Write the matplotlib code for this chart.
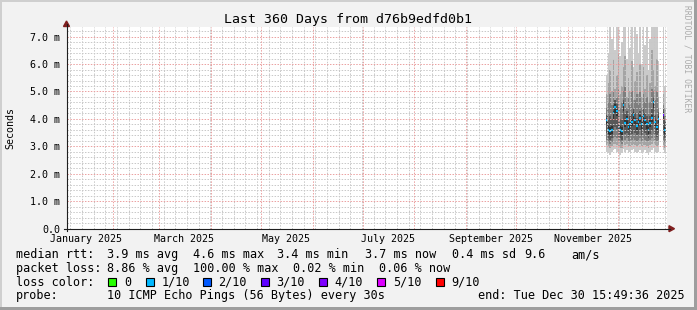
import numpy as np
import pandas as pd
import matplotlib
matplotlib.use('Agg')
import matplotlib.pyplot as plt
import matplotlib.dates as mdates
from matplotlib.patches import Polygon, Rectangle
from matplotlib.lines import Line2D

W, H = 697, 310
plt.rcParams['font.family'] = ['DejaVu Sans Mono', 'DejaVu Sans']

# daily consolidated smoke data (values in ms), 10 sorted pings per day
days = list(pd.date_range('2025-11-24', '2025-12-25', freq='D')) + \
    [pd.Timestamp('2025-12-28'), pd.Timestamp('2025-12-29')]
ping1 = [2.8, 2.75, 2.7, 2.8, 2.85, 2.9, 2.8, 2.75, 2.7, 2.75, 2.9, 2.8, 2.85, 2.75, 2.8, 2.85, 2.9,
         2.8, 2.75, 2.8, 2.85, 2.75, 2.8, 2.85, 2.75, 2.7, 2.8, 2.85, 2.95, 2.8, 2.75, 2.8, 2.85, 2.75]
ping2 = [3.05, 3.0, 2.95, 3.0, 3.1, 3.1, 3.05, 3.0, 2.95, 2.95, 3.15, 3.05, 3.1, 3.0, 3.0, 3.05, 3.1,
         3.05, 3.0, 3.05, 3.1, 3.0, 3.05, 3.05, 3.0, 2.95, 3.05, 3.1, 3.2, 3.05, 3.0, 3.05, 3.05, 2.95]
ping3 = [3.25, 3.15, 3.1, 3.15, 3.3, 3.35, 3.3, 3.2, 3.15, 3.1, 3.4, 3.25, 3.3, 3.2, 3.2, 3.25, 3.3,
         3.25, 3.2, 3.25, 3.3, 3.2, 3.3, 3.25, 3.2, 3.15, 3.25, 3.3, 3.45, 3.25, 3.2, 3.25, 3.25, 3.15]
ping4 = [3.5, 3.3, 3.25, 3.3, 3.6, 3.7, 3.65, 3.35, 3.3, 3.25, 3.8, 3.45, 3.5, 3.35, 3.4, 3.45, 3.6,
         3.5, 3.4, 3.45, 3.55, 3.4, 3.55, 3.5, 3.4, 3.3, 3.45, 3.55, 3.8, 3.45, 3.35, 3.5, 3.5, 3.3]
ping5 = [3.8, 3.45, 3.4, 3.45, 3.95, 4.2, 4.1, 3.55, 3.45, 3.4, 4.3, 3.7, 3.8, 3.55, 3.65, 3.75, 3.95,
         3.8, 3.6, 3.75, 3.9, 3.65, 3.9, 3.8, 3.65, 3.45, 3.7, 3.9, 4.35, 3.75, 3.55, 3.85, 3.95, 3.45]
ping6 = [4.05, 3.75, 3.7, 3.75, 4.3, 4.55, 4.4, 3.85, 3.75, 3.7, 4.6, 3.95, 4.1, 3.8, 3.9, 4.0, 4.25,
         4.05, 3.85, 4.0, 4.15, 3.9, 4.2, 4.05, 3.9, 3.7, 3.95, 4.15, 4.7, 4.0, 3.8, 4.1, 4.25, 3.7]
ping7 = [4.15, 4.0, 4.1, 4.0, 4.5, 4.7, 4.55, 4.2, 4.0, 3.95, 4.7, 4.2, 4.3, 4.0, 4.1, 4.2, 4.4,
         4.2, 4.05, 4.2, 4.3, 4.1, 4.35, 4.2, 4.1, 3.9, 4.1, 4.35, 4.8, 4.15, 4.0, 4.25, 4.4, 3.95]
ping8 = [4.4, 4.6, 4.9, 4.5, 5.0, 4.7, 4.8, 5.1, 4.4, 4.6, 5.0, 5.2, 4.4, 4.8, 4.5, 5.0, 4.3,
         4.7, 4.9, 4.5, 5.0, 4.4, 4.9, 4.6, 4.8, 4.2, 4.6, 5.1, 5.0, 4.7, 5.0, 4.4, 4.5, 4.1]
ping9 = [4.9, 5.3, 5.8, 5.0, 6.2, 5.1, 5.6, 6.4, 4.9, 5.2, 5.9, 6.3, 4.8, 5.5, 5.0, 6.1, 4.7,
         5.4, 5.7, 4.9, 6.0, 4.8, 5.9, 5.1, 5.6, 4.6, 5.3, 6.5, 5.8, 5.2, 6.2, 4.8, 4.9, 4.4]
ping10 = [5.6, 6.4, 7.4, 6.9, 7.4, 6.5, 7.4, 7.4, 6.3, 6.8, 7.4, 7.4, 6.2, 7.4, 6.6, 7.4, 5.9,
          7.4, 7.1, 6.4, 7.4, 6.0, 7.4, 6.7, 7.4, 5.8, 6.9, 7.4, 7.4, 7.4, 7.4, 6.1, 7.4, 5.2]
median = [3.95, 3.6, 3.55, 3.6, 4.2, 4.45, 4.3, 3.7, 3.6, 3.55, 4.5, 3.85, 4.0, 3.7, 3.8, 3.9, 4.15,
          3.95, 3.75, 3.9, 4.05, 3.8, 4.1, 3.95, 3.8, 3.6, 3.85, 4.05, 4.6, 3.9, 3.7, 4.0, 4.15, 3.6]
loss = [1] * 32 + [3, 1]

loss_labels = ['0', '1/10', '2/10', '3/10', '4/10', '5/10', '9/10']
loss_keys = [0, 1, 2, 3, 4, 5, 9]
loss_colors = ['#26ff00', '#00b8ff', '#0059ff', '#5e00ff', '#7e00ff', '#dd00ff', '#ff0000']

start = pd.Timestamp('2025-01-04 15:49:36')
end = pd.Timestamp('2025-12-30 15:49:36')


def fx(x):
    return x / W


def fy(y):
    return 1 - y / H


fig = plt.figure(figsize=(W / 100, H / 100), dpi=100, facecolor='#f2f2f2')
ax = fig.add_axes([fx(67), fy(228.7), 600 / W, 201.7 / H])
ax.set_facecolor('white')
for s in ax.spines.values():
    s.set_visible(False)

x = mdates.date2num(days)
bands = [(ping1, ping10, '#cacaca'), (ping2, ping9, '#a4a4a4'), (ping3, ping8, '#7e7e7e'),
         (ping4, ping7, '#585858'), (ping5, ping6, '#323232')]
for lo, hi, c in bands:
    lo = np.array(lo)
    hi = np.array(hi)
    ax.bar(x, hi - lo, bottom=lo, width=1.0, align='edge', color=c, linewidth=0, zorder=2)

cmap = dict(zip(loss_keys, loss_colors))
ax.hlines(median, x, x + 1.0, colors=[cmap[l] for l in loss], linewidth=1.6, zorder=3)

# dotted grid drawn over the data, rrdtool style
minor_kw = dict(color='#c8c8c8', lw=0.7, ls=(0, (1.5, 1.5)), zorder=4)
major_kw = dict(color='#eba0a0', lw=0.7, ls=(0, (1.5, 1.5)), zorder=5)
for wk in pd.date_range(start, end, freq='W-MON'):
    ax.axvline(mdates.date2num(wk), **minor_kw)
for v in np.arange(0.2, 7.35, 0.2):
    if abs(v - round(v)) > 1e-6:
        ax.axhline(v, **minor_kw)
for m in pd.date_range('2025-02-01', '2025-12-01', freq='MS'):
    ax.axvline(mdates.date2num(m), **major_kw)
for v in range(1, 8):
    ax.axhline(v, **major_kw)

ax.set_xlim(mdates.date2num(start), mdates.date2num(end))
ax.set_ylim(0, 7.35)

yt = list(range(8))
ax.set_yticks(yt, ['0.0' if v == 0 else f'{v:.1f} m' for v in yt])
lab_dates = pd.date_range('2025-01-01', periods=6, freq='2MS') + pd.Timedelta(days=15)
ax.set_xticks(mdates.date2num(lab_dates), [d.strftime('%B %Y') for d in lab_dates])
ax.tick_params(axis='both', length=0, labelsize=7.2)
ax.tick_params(axis='y', pad=5)
ax.tick_params(axis='x', pad=3.7)

# axes with arrows
axis_c = '#1f1f1f'
arrow_c = '#801f1f'
fig.add_artist(Line2D([fx(66.5), fx(66.5)], [fy(231), fy(24)], color=axis_c, lw=0.8))
fig.add_artist(Line2D([fx(64), fx(670)], [fy(228.7), fy(228.7)], color=axis_c, lw=0.8))
fig.add_artist(Polygon([(fx(63.5), fy(26.5)), (fx(69.5), fy(26.5)), (fx(66.5), fy(21))],
                       closed=True, color=arrow_c, transform=fig.transFigure))
fig.add_artist(Polygon([(fx(669), fy(225.7)), (fx(669), fy(231.7)), (fx(674.5), fy(228.7))],
                       closed=True, color=arrow_c, transform=fig.transFigure))

# frame shading
shadeA, shadeB = '#cfcfcf', '#9e9e9e'
fig.add_artist(Rectangle((0, fy(2)), 1, 2 / H, color=shadeA, transform=fig.transFigure, lw=0))
fig.add_artist(Rectangle((0, 0), 2 / W, 1, color=shadeA, transform=fig.transFigure, lw=0))
fig.add_artist(Rectangle((0, 0), 1, 3 / H, color=shadeB, transform=fig.transFigure, lw=0))
fig.add_artist(Rectangle((fx(694), 0), 3 / W, 1, color=shadeB, transform=fig.transFigure, lw=0))

fig.text(fx(348), fy(23.3), 'Last 360 Days from d76b9edfd0b1', ha='center', va='baseline', fontsize=9.5)
fig.text(fx(10), fy(128), 'Seconds', rotation=90, ha='center', va='center', fontsize=7.2)
fig.text(fx(686.5), fy(5), 'RRDTOOL / TOBI OETIKER', rotation=270, ha='center', va='top',
         fontsize=5.8, color='#ababab')

# legend block
fs = 8.5
rows = [
    (258.3, [(16, 'median rtt:'), (107.3, '3.9 ms avg'), (192.7, '4.6 ms max'), (277.3, '3.4 ms min'),
             (365, '3.7 ms now'), (451.7, '0.4 ms sd'), (524, '9.6'), (571.7, 'am/s')]),
    (272, [(16, 'packet loss:'), (107.3, '8.86 % avg'), (192.7, '100.00 % max'),
           (293.3, '0.02 % min'), (379.3, '0.06 % now')]),
    (285.7, [(16, 'loss color:')]),
    (299.3, [(16, 'probe:'), (107.3, '10 ICMP Echo Pings (56 Bytes) every 30s'),
             (478.3, 'end: Tue Dec 30 15:49:36 2025')]),
]
for yb, items in rows:
    for xp, t in items:
        fig.text(fx(xp), fy(yb), t, ha='left', va='baseline', fontsize=fs)

box_x = [108.3, 145.7, 202.7, 261, 319.3, 377.3, 436]
for bx, lab, col in zip(box_x, loss_labels, loss_colors):
    fig.add_artist(Rectangle((fx(bx), fy(286)), 8 / W, 8 / H, facecolor=col, edgecolor='black',
                             lw=0.8, transform=fig.transFigure))
    fig.text(fx(bx + 15.5), fy(285.7), lab, ha='left', va='baseline', fontsize=fs)

fig.savefig('out.png', dpi=100, facecolor=fig.get_facecolor())
